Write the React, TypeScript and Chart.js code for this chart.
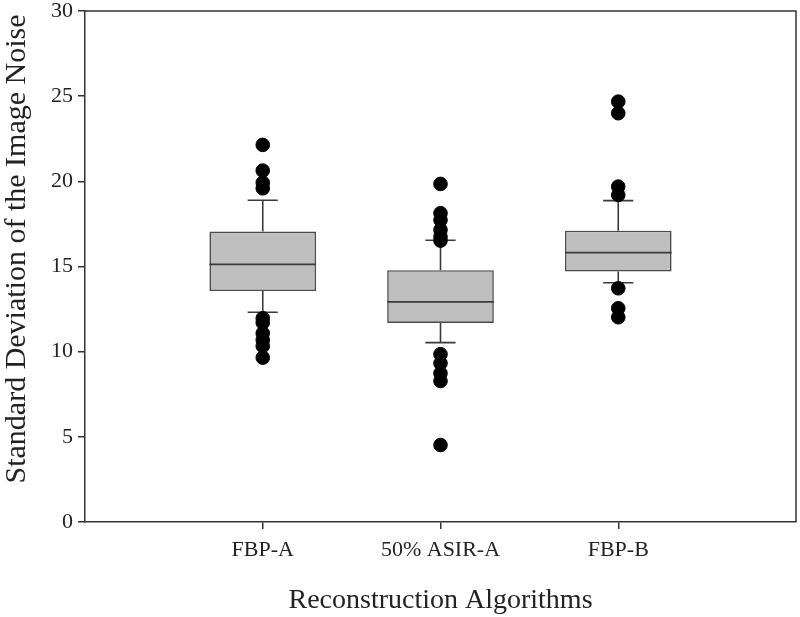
import React, { useEffect, useRef } from "react";
import { Chart, registerables } from "chart.js";

Chart.register(...registerables);

const categories = ["FBP-A", "50% ASIR-A", "FBP-B"];
const categoryPositions = [1, 2, 3];
const lowerWhisker = [12.31, 10.53, 14.05];
const q1 = [13.56, 11.69, 14.7];
const medians = [15.13, 12.92, 15.81];
const q3 = [17.05, 14.78, 17.1];
const upperWhisker = [18.89, 16.54, 18.87];
const outliersFBPA = [22.14, 20.63, 19.92, 19.59, 11.96, 11.7, 11.08, 10.69, 10.33, 9.65];
const outliersASIR = [19.85, 18.13, 17.73, 17.15, 16.75, 16.52, 9.85, 9.32, 8.73, 8.28, 4.52];
const outliersFBPB = [24.68, 24.0, 19.69, 19.2, 13.72, 12.55, 12.02];
const outlierGroups = [outliersFBPA, outliersASIR, outliersFBPB];
const yTickValues = [0, 5, 10, 15, 20, 25, 30];
const yTitle = "Standard Deviation of the Image Noise";
const xTitle = "Reconstruction Algorithms";

const BOX_WIDTH = 0.6;
const CAP_WIDTH = 0.17;
const SERIF = "'Liberation Serif', 'Times New Roman', serif";
const DARK = "#333333";

export default function App() {
  const canvasRef = useRef<HTMLCanvasElement | null>(null);

  useEffect(() => {
    const canvas = canvasRef.current;
    if (!canvas) return;

    const boxData = categoryPositions.map((x, i) => ({ x, y: [q1[i], q3[i]] }));
    const medianData: any[] = [];
    const whiskerData: any[] = [];
    categoryPositions.forEach((x, i) => {
      medianData.push({ x: x - BOX_WIDTH / 2, y: medians[i] });
      medianData.push({ x: x + BOX_WIDTH / 2, y: medians[i] });
      medianData.push({ x, y: null });

      whiskerData.push({ x, y: q3[i] }, { x, y: upperWhisker[i] }, { x, y: null });
      whiskerData.push({ x: x - CAP_WIDTH / 2, y: upperWhisker[i] }, { x: x + CAP_WIDTH / 2, y: upperWhisker[i] }, { x, y: null });
      whiskerData.push({ x, y: q1[i] }, { x, y: lowerWhisker[i] }, { x, y: null });
      whiskerData.push({ x: x - CAP_WIDTH / 2, y: lowerWhisker[i] }, { x: x + CAP_WIDTH / 2, y: lowerWhisker[i] }, { x, y: null });
    });
    const outlierData: any[] = [];
    outlierGroups.forEach((g, i) => g.forEach((v) => outlierData.push({ x: categoryPositions[i], y: v })));

    const framePlugin = {
      id: "frame",
      afterDatasetsDraw(chart: any) {
        const { ctx, chartArea } = chart;
        ctx.save();
        ctx.strokeStyle = DARK;
        ctx.lineWidth = 1.5;
        ctx.beginPath();
        ctx.moveTo(chartArea.left, chartArea.top);
        ctx.lineTo(chartArea.right, chartArea.top);
        ctx.lineTo(chartArea.right, chartArea.bottom);
        ctx.stroke();
        ctx.restore();
      },
      afterDraw(chart: any) {
        const { ctx } = chart;
        ctx.save();
        ctx.translate(17, 249);
        ctx.rotate(-Math.PI / 2);
        ctx.font = `30px ${SERIF}`;
        ctx.fillStyle = "#222222";
        ctx.textAlign = "center";
        ctx.textBaseline = "middle";
        ctx.fillText(yTitle, 0, 0);
        ctx.restore();
      },
    };

    const chart = new Chart(canvas, {
      type: "scatter",
      data: {
        datasets: [
          {
            type: "scatter",
            label: "outliers",
            data: outlierData,
            backgroundColor: "#000000",
            borderColor: "#000000",
            pointRadius: 6.8,
            pointHoverRadius: 6.8,
            order: 1,
          } as any,
          {
            type: "scatter",
            label: "median",
            data: medianData,
            showLine: true,
            spanGaps: false,
            borderColor: "#3a3a3a",
            borderWidth: 1.8,
            pointRadius: 0,
            order: 2,
          } as any,
          {
            type: "scatter",
            label: "whiskers",
            data: whiskerData,
            showLine: true,
            spanGaps: false,
            borderColor: "#3a3a3a",
            borderWidth: 1.6,
            pointRadius: 0,
            order: 3,
          } as any,
          {
            type: "bar",
            label: "box",
            data: boxData,
            backgroundColor: "#bfbfbf",
            borderColor: "#4a4a4a",
            borderWidth: 1.6,
            borderSkipped: false,
            barPercentage: BOX_WIDTH,
            categoryPercentage: 1,
            order: 4,
          } as any,
        ],
      },
      options: {
        animation: false,
        responsive: false,
        maintainAspectRatio: false,
        layout: { autoPadding: false, padding: { top: 11, right: 4, left: 0, bottom: 0 } },
        plugins: {
          legend: { display: false },
          tooltip: { enabled: false },
        },
        scales: {
          x: {
            type: "linear",
            min: 0,
            max: 4,
            offset: false,
            afterBuildTicks: (scale: any) => {
              scale.ticks = categoryPositions.map((v) => ({ value: v }));
            },
            afterFit: (scale: any) => {
              scale.height = 95;
              scale.paddingRight = 0;
              scale.paddingLeft = 0;
            },
            ticks: {
              autoSkip: false,
              maxRotation: 0,
              padding: 8,
              color: "#222222",
              font: { family: SERIF, size: 22 },
              callback: (v: any) => {
                const idx = categoryPositions.indexOf(Number(v));
                return idx >= 0 ? categories[idx] : "";
              },
            },
            grid: {
              offset: false,
              drawOnChartArea: false,
              drawTicks: true,
              tickLength: 7,
              tickColor: DARK,
              lineWidth: 1.5,
            },
            border: { display: true, color: DARK, width: 1.5 },
            title: {
              display: true,
              text: xTitle,
              color: "#222222",
              font: { family: SERIF, size: 28 },
              padding: 0,
            },
          },
          y: {
            type: "linear",
            min: 0,
            max: 30,
            afterBuildTicks: (scale: any) => {
              scale.ticks = yTickValues.map((v) => ({ value: v }));
            },
            afterFit: (scale: any) => {
              scale.width = 85;
              scale.paddingTop = 0;
              scale.paddingBottom = 0;
            },
            ticks: {
              padding: 5,
              color: "#222222",
              font: { family: SERIF, size: 22, lineHeight: 0.8 },
            },
            grid: {
              drawOnChartArea: false,
              drawTicks: true,
              tickLength: 7,
              tickColor: DARK,
              lineWidth: 1.5,
            },
            border: { display: true, color: DARK, width: 1.5 },
            title: { display: false },
          },
        },
      },
      plugins: [framePlugin],
    } as any);

    return () => {
      chart.destroy();
    };
  }, []);

  return (
    <div style={{ position: "fixed", left: 0, top: 0, width: 800, height: 617, background: "#ffffff" }}>
      <canvas ref={canvasRef} width={800} height={617} style={{ width: 800, height: 617, display: "block" }} />
    </div>
  );
}
